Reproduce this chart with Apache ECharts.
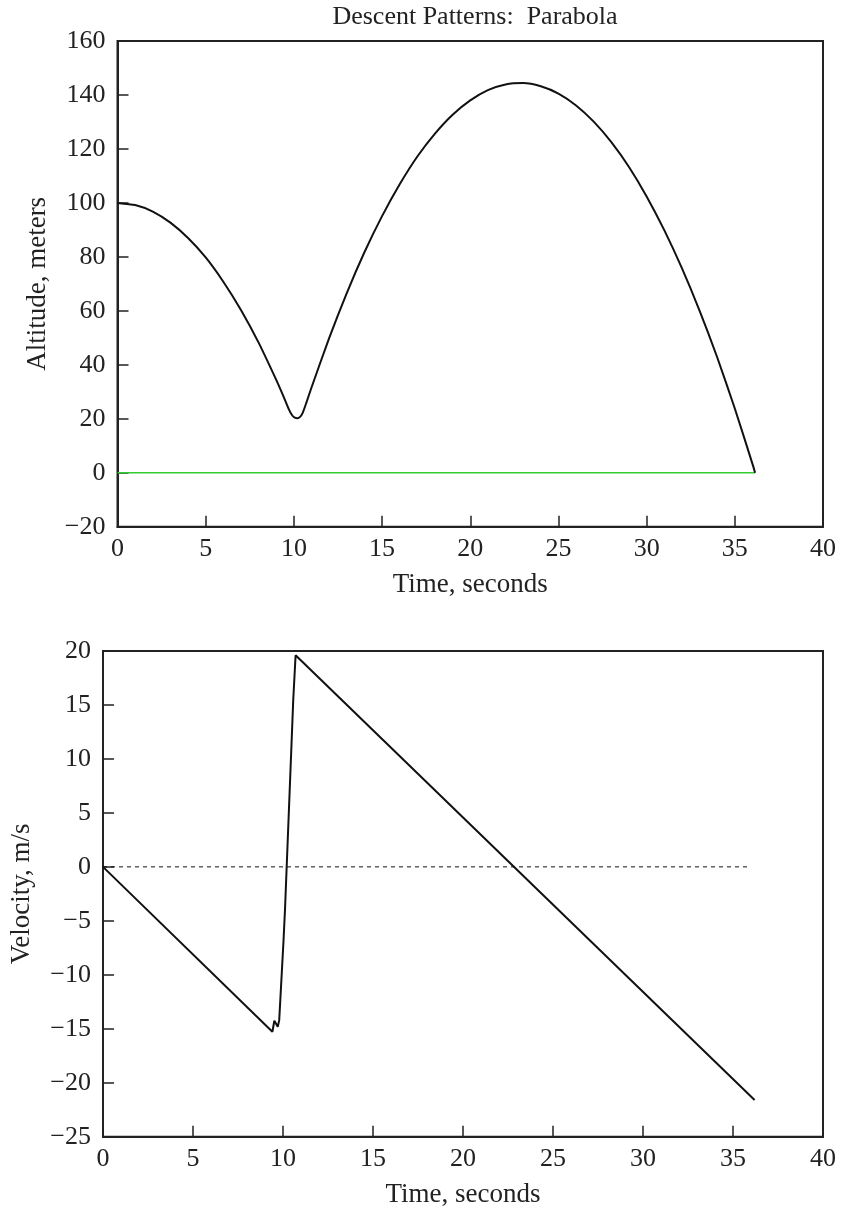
<!DOCTYPE html>
<html>
<head>
<meta charset="utf-8">
<script src="https://cdn.jsdelivr.net/npm/echarts@6/dist/echarts.min.js"></script>
<style>
  html, body { margin: 0; padding: 0; background: #fff; }
  #chart { width: 843px; height: 1215px; }
</style>
</head>
<body>
<div id="chart"></div>
<script>
// Altitude trace (seconds, meters)
const altTime = [0, 1, 2, 3, 4, 5, 6, 7, 8, 9, 9.41, 9.71, 9.9, 10.05, 10.2, 10.35, 10.5, 10.7,
  11, 12, 13, 14, 15, 16, 17, 18, 19, 20, 21, 22, 23, 24, 25, 26, 27, 28, 29, 30, 31, 32, 33, 34, 35, 36, 36.15];
const altitude = [100, 99.2, 96.8, 92.7, 87.0, 79.8, 70.8, 60.3, 48.2, 34.4, 28.3, 23.6, 21.3, 20.4, 20.2, 20.7, 22.2, 25.8,
  31.6, 49.9, 66.6, 81.7, 95.1, 106.9, 117.2, 125.7, 132.7, 138.0, 141.8, 143.9, 144.4, 143.2, 140.5, 136.1, 130.1, 122.5, 113.3, 102.4, 89.9, 75.8, 60.1, 42.8, 23.8, 3.3, 0];

// Ground level
const groundTime = [0, 36.15];
const groundLevel = [0, 0];

// Velocity trace (seconds, m/s)
const velTime = [0, 9.41, 9.52, 9.71, 9.79, 10.03, 10.11, 10.57, 10.7, 36.2];
const velocity = [0, -15.28, -14.26, -14.82, -14.2, -6.8, -4.0, 15.5, 19.6, -21.6];

// Zero-velocity reference
const zeroTime = [0, 36];
const zeroVel = [0, 0];

// Tick values
const timeTicks = { min: 0, max: 40, interval: 5 };
const altTicks = { min: -20, max: 160, interval: 20 };
const velTicks = { min: -25, max: 20, interval: 5 };

const zip = (xs, ys) => xs.map((x, i) => [x, ys[i]]);

const FONT = 'Liberation Serif';
const INK = '#222';
const TICK_SIZE = 26;
const NAME_SIZE = 27;
const fmt = v => (v < 0 ? '\u2212' + Math.abs(v) : String(v));

function xAxisFor(gridIndex) {
  return {
    type: 'value', gridIndex,
    min: timeTicks.min, max: timeTicks.max, interval: timeTicks.interval,
    name: 'Time, seconds', nameLocation: 'middle', nameGap: 45,
    nameTextStyle: { fontFamily: FONT, fontSize: NAME_SIZE, color: INK },
    axisLine: { show: true, onZero: false, lineStyle: { color: INK, width: 2 } },
    axisTick: { show: true, inside: true, length: 11, lineStyle: { color: INK, width: 1.5 } },
    axisLabel: { fontFamily: FONT, fontSize: TICK_SIZE, color: INK, margin: 9, formatter: fmt },
    splitLine: { show: false }
  };
}

function yAxisFor(gridIndex, ticks, name, gap) {
  return {
    type: 'value', gridIndex,
    min: ticks.min, max: ticks.max, interval: ticks.interval,
    name, nameLocation: 'middle', nameGap: gap,
    nameTextStyle: { fontFamily: FONT, fontSize: NAME_SIZE, color: INK },
    axisLine: { show: true, onZero: false, lineStyle: { color: INK, width: 2 } },
    axisTick: { show: true, inside: true, length: 11, lineStyle: { color: INK, width: 1.5 } },
    axisLabel: { fontFamily: FONT, fontSize: TICK_SIZE, color: INK, margin: 12, formatter: fmt },
    splitLine: { show: false }
  };
}

const chart = echarts.init(document.getElementById('chart'), null, { renderer: 'canvas' });

chart.setOption({
  animation: false,
  backgroundColor: '#fff',
  title: {
    text: 'Descent Patterns:  Parabola',
    left: 470, top: -1, textAlign: 'center',
    textStyle: { fontFamily: FONT, fontSize: 26, fontWeight: 'normal', color: INK }
  },
  grid: [
    { left: 117.5, right: 20, top: 41, height: 485.7, show: true, borderColor: INK, borderWidth: 2, backgroundColor: 'transparent' },
    { left: 103, right: 20, top: 651, height: 485.7, show: true, borderColor: INK, borderWidth: 2, backgroundColor: 'transparent' }
  ],
  xAxis: [xAxisFor(0), xAxisFor(1)],
  yAxis: [
    yAxisFor(0, altTicks, 'Altitude, meters', 66),
    yAxisFor(1, velTicks, 'Velocity, m/s', 68)
  ],
  series: [
    {
      name: 'ground', type: 'line', xAxisIndex: 0, yAxisIndex: 0,
      data: zip(groundTime, groundLevel), symbol: 'none',
      lineStyle: { color: '#33cc33', width: 1.5 }, z: 2
    },
    {
      name: 'altitude', type: 'line', xAxisIndex: 0, yAxisIndex: 0,
      data: zip(altTime, altitude), symbol: 'none', smooth: 0.2,
      lineStyle: { color: '#111', width: 2 }, z: 3
    },
    {
      name: 'zero', type: 'line', xAxisIndex: 1, yAxisIndex: 1,
      data: zip(zeroTime, zeroVel), symbol: 'none',
      lineStyle: { color: '#111', width: 1, type: [4, 4] }, z: 2
    },
    {
      name: 'velocity', type: 'line', xAxisIndex: 1, yAxisIndex: 1,
      data: zip(velTime, velocity), symbol: 'none',
      lineStyle: { color: '#111', width: 2 }, z: 3
    }
  ]
});
</script>
</body>
</html>
